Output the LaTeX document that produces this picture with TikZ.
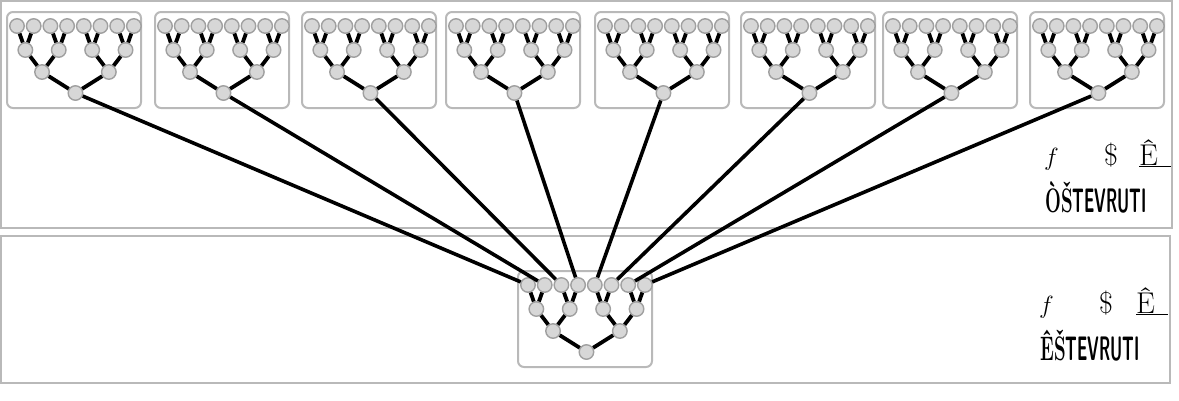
\documentclass[tikz,border=0pt]{standalone}
\usepackage{tikz}
\usetikzlibrary{positioning, calc}

\definecolor{boxgray}{RGB}{185, 185, 185}
\definecolor{nodegray}{RGB}{215, 215, 215}
\definecolor{rimgray}{RGB}{160, 160, 160}

% one small tree of 15 nodes: #1 name, #2 left x, #3 top y
\newcommand{\smalltree}[3]{%
  \node[cell] (#1-box) at ({#2+67},{#3+48}) {};
  \foreach \k in {0,...,7}
    \node[knot] (#1-a\k) at ({#2+10+16.7*\k},{#3+14}) {};
  \foreach \k in {0,...,3}
    \node[knot] (#1-b\k) at ({#2+18.35+33.4*\k},{#3+38}) {};
  \foreach \k in {0,1}
    \node[knot] (#1-c\k) at ({#2+35.05+66.8*\k},{#3+60}) {};
  \node[knot] (#1-r) at ({#2+68.45},{#3+81}) {};
  \foreach \k in {0,...,7}{
    \pgfmathtruncatemacro{\up}{int(\k/2)}
    \draw[edge] (#1-a\k) -- (#1-b\up);
  }
  \foreach \k in {0,...,3}{
    \pgfmathtruncatemacro{\up}{int(\k/2)}
    \draw[edge] (#1-b\k) -- (#1-c\up);
  }
  \draw[edge] (#1-c0) -- (#1-r);
  \draw[edge] (#1-c1) -- (#1-r);
}

\begin{document}
\begin{tikzpicture}[x=1pt, y=-1pt,
  knot/.style={circle, draw=rimgray, fill=nodegray, line width=1.4pt, inner sep=0pt, minimum size=14.5pt},
  cell/.style={draw=boxgray, rounded corners=6pt, line width=2pt, minimum width=134pt, minimum height=96pt, inner sep=0pt},
  edge/.style={line width=3.8pt, black},
  link/.style={line width=3.6pt, black},
  panel/.style={draw=boxgray, line width=2.2pt},
  note/.style={font=\fontsize{30}{32}\selectfont, inner sep=0pt, anchor=base west},
  tag/.style={font=\fontsize{34}{36}\selectfont\bfseries, inner sep=0pt, anchor=base west}
]
  \useasboundingbox (0,0) rectangle (1179,400);

  % the two panels
  \draw[panel] (1,1) rectangle (1172,228);
  \draw[panel] (1,236) rectangle (1170,383);

  % upper row of trees
  \foreach \n/\x in {0/7, 1/155, 2/302, 3/446, 4/595, 5/741, 6/883, 7/1030}{
    \smalltree{t\n}{\x}{12}
  }

  % lower tree
  \smalltree{b}{518}{271}

  % roots of the upper trees to the leaves of the lower one
  \foreach \n in {0,...,7}
    \draw[link] (t\n-r) -- (b-a\n);

  % labels
  \node[note] (l1a) at (1044,165) {$f$};
  \node[note] (l1b) at (1104,165) {\$};
  \node[note] (l1c) at (1139,165) {\underline{Ê\hspace{13pt}}};
  \node[tag] (l1d) at (1045,212) {\scalebox{0.55}[1]{ÒŠ}\scalebox{0.47}[1]{\sffamily TEVRUTI}};

  \node[note] (l2a) at (1039,313) {$f$};
  \node[note] (l2b) at (1099,313) {\$};
  \node[note] (l2c) at (1136,313) {\underline{Ê\hspace{13pt}}};
  \node[tag] (l2d) at (1040,360) {\scalebox{0.55}[1]{ÊŠ}\scalebox{0.47}[1]{\sffamily TEVRUTI}};
\end{tikzpicture}
\end{document}
